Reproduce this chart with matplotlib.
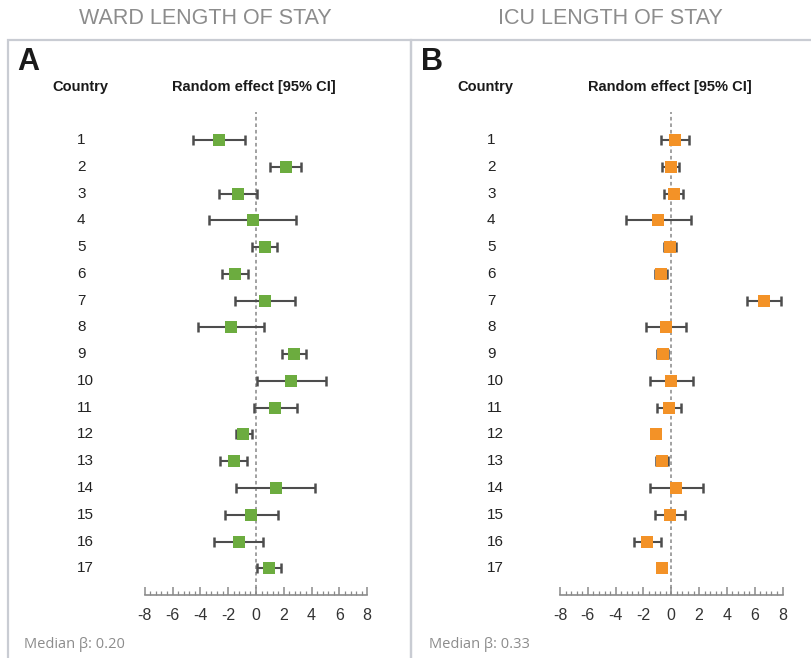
import numpy as np
import matplotlib
matplotlib.use("Agg")
import matplotlib.pyplot as plt
import matplotlib.transforms as mtransforms
from matplotlib.patches import Rectangle
from matplotlib.ticker import MultipleLocator

#%% data
countries = list(range(1, 18))

ward_est = [-2.63, 2.13, -1.31, -0.24, 0.65, -1.48, 0.65, -1.82, 2.75,
            2.53, 1.38, -0.91, -1.60, 1.41, -0.34, -1.24, 0.91]
ward_lo = [-4.50, 1.03, -2.63, -3.37, -0.26, -2.44, -1.48, -4.14, 1.87,
           0.07, -0.14, -1.46, -2.56, -1.43, -2.22, -3.03, 0.10]
ward_hi = [-0.79, 3.25, 0.05, 2.89, 1.53, -0.55, 2.78, 0.55, 3.60,
           5.02, 2.94, -0.31, -0.65, 4.28, 1.56, 0.52, 1.79]

icu_est = [0.29, -0.05, 0.17, -0.94, -0.12, -0.75, 6.64, -0.39, -0.60,
           0.00, -0.17, -1.10, -0.65, 0.36, -0.07, -1.73, -0.70]
icu_lo = [-0.72, -0.63, -0.50, -3.22, -0.55, -1.20, 5.44, -1.78, -1.00,
          -1.54, -1.00, -1.30, -1.10, -1.56, -1.15, -2.69, -0.95]
icu_hi = [1.29, 0.53, 0.88, 1.39, 0.36, -0.29, 7.89, 1.05, -0.20,
          1.55, 0.67, -0.90, -0.24, 2.30, 0.98, -0.75, -0.45]

titles = ["WARD LENGTH OF STAY", "ICU LENGTH OF STAY"]
letters = ["A", "B"]
medians = ["Median \u03b2: 0.20", "Median \u03b2: 0.33"]
xticks = [-8, -6, -4, -2, 0, 2, 4, 6, 8]

#%% figure
W, H = 812, 658
plt.rcParams['font.family'] = ['Liberation Sans', 'DejaVu Sans']
plt.rcParams['axes.unicode_minus'] = False
fig = plt.figure(figsize=(W / 100, H / 100), dpi=100)

def fx(px):
    return px / W

def fy(py):
    return 1 - py / H

# panel frames
frame_col = '#c9ccd3'
fig.add_artist(Rectangle((fx(8), fy(670)), fx(411 - 8), fy(40) - fy(670),
                         transform=fig.transFigure, fill=False,
                         ec=frame_col, lw=1.6))
fig.add_artist(Rectangle((fx(411), fy(670)), fx(812 - 411 + 5), fy(40) - fy(670),
                         transform=fig.transFigure, fill=False,
                         ec=frame_col, lw=1.6))

panels = [
    dict(est=ward_est, lo=ward_lo, hi=ward_hi, color='#6cac3f', ax_left=144.7,
         title_x=205, letter_x=17, country_x=52, head_x=253.5, num_x=77, med_x=24),
    dict(est=icu_est, lo=icu_lo, hi=icu_hi, color='#f39227', ax_left=560,
         title_x=610, letter_x=421, country_x=457, head_x=670, num_x=487, med_x=429),
]

ax_top, ax_bot = 112, 595
for i, p in enumerate(panels):
    ax = fig.add_axes([fx(p['ax_left']), fy(ax_bot), fx(222.5), fy(ax_top) - fy(ax_bot)])
    est = np.array(p['est'])
    err = [est - np.array(p['lo']), np.array(p['hi']) - est]
    ax.axvline(0, color='#9a9a9a', lw=1.3, ls=(0, (2, 1.6)), zorder=1)
    ax.errorbar(est, countries, xerr=err, fmt='none', ecolor='#4d4d4d',
                elinewidth=1.5, capsize=3.5, capthick=1.8, zorder=2)
    ax.plot(est, countries, 's', ms=9.2, mew=0, color=p['color'], zorder=3)
    ax.set_xlim(-8, 8)
    ax.set_ylim(17.997, -0.046)
    ax.set_xticks(xticks)
    ax.xaxis.set_minor_locator(MultipleLocator(0.4))
    ax.set_yticks([])
    for s in ['left', 'right', 'top']:
        ax.spines[s].set_visible(False)
    ax.spines['bottom'].set_color('#8a8a8a')
    ax.spines['bottom'].set_linewidth(1.2)
    ax.tick_params(axis='x', which='major', direction='in', length=6, width=1.1,
                   color='#8a8a8a', labelsize=11.5, labelcolor='#333333', pad=9)
    ax.tick_params(axis='x', which='minor', direction='in', length=3, width=0.9,
                   color='#8a8a8a')
    ax.patch.set_alpha(0)

    # country numbers
    trans = mtransforms.blended_transform_factory(fig.transFigure, ax.transData)
    for c in countries:
        ax.text(fx(p['num_x']), c, str(c), transform=trans, ha='left',
                va='center', fontsize=11, color='#222222')

    fig.text(fx(p['title_x']), fy(18), titles[i], ha='center', va='center',
             fontsize=15.5, color='#8c8c8c')
    fig.text(fx(p['letter_x']), fy(62), letters[i], ha='left', va='center',
             fontsize=22, fontweight='bold', color='#1a1a1a')
    fig.text(fx(p['country_x']), fy(87), 'Country', ha='left', va='center',
             fontsize=10.5, fontweight='bold', color='#1a1a1a')
    fig.text(fx(p['head_x']), fy(87), 'Random effect [95% CI]', ha='center',
             va='center', fontsize=10.5, fontweight='bold', color='#1a1a1a')
    fig.text(fx(p['med_x']), fy(644), medians[i], ha='left', va='center',
             fontsize=10.5, color='#8c8c8c', family=['Open Sans', 'DejaVu Sans'])

fig.savefig('out.png', dpi=100)
